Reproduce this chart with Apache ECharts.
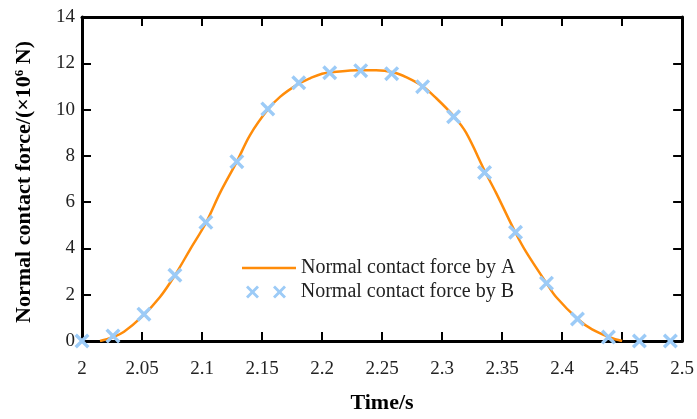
<!DOCTYPE html>
<html>
<head>
<meta charset="utf-8">
<script src="https://cdn.jsdelivr.net/npm/echarts@6/dist/echarts.min.js"></script>
<style>
  html, body { margin: 0; padding: 0; background: #fff; }
  #chart { width: 697px; height: 419px; }
</style>
</head>
<body>
<div id="chart"></div>
<script>
// curve A
var timeA = [2.015, 2.025, 2.035, 2.05, 2.065, 2.0774, 2.09, 2.1032, 2.115, 2.129, 2.14, 2.1548, 2.165,
    2.18, 2.19, 2.2, 2.21, 2.23, 2.245, 2.26, 2.27, 2.284, 2.295, 2.31, 2.32, 2.336, 2.345, 2.361,
    2.37, 2.387, 2.395, 2.413, 2.425, 2.44, 2.45];
var forceA = [0, 0.15, 0.4, 1.05, 1.9, 2.84, 3.95, 5.1, 6.4, 7.75, 8.9, 10.0, 10.55,
    11.1, 11.35, 11.55, 11.62, 11.7, 11.7, 11.6, 11.4, 11.0, 10.5, 9.7, 9.0, 7.3, 6.4, 4.7,
    3.85, 2.5, 1.9, 0.95, 0.5, 0.15, 0];
// points B
var timeB = [2.0, 2.0258, 2.0516, 2.0774, 2.1032, 2.129, 2.1548, 2.1806, 2.2064, 2.2322,
    2.258, 2.2838, 2.3096, 2.3354, 2.3612, 2.387, 2.4128, 2.4386, 2.4644, 2.4902];
var forceB = [0, 0.22, 1.16, 2.84, 5.13, 7.75, 10.03, 11.16, 11.59, 11.68,
    11.55, 10.99, 9.69, 7.28, 4.7, 2.5, 0.95, 0.17, 0, 0];
var xTicks = [2, 2.05, 2.1, 2.15, 2.2, 2.25, 2.3, 2.35, 2.4, 2.45, 2.5];
var yTicks = [0, 2, 4, 6, 8, 10, 12, 14];

var nameA = 'Normal contact force by A',
    nameB = 'Normal contact force by B';

var serif = '"Liberation Serif", "DejaVu Serif", serif';
var textColor = '#222';

// filled X shape so it renders as a cross
var crossPath = 'path://M0,1.6L1.6,0L5,3.4L8.4,0L10,1.6L6.6,5L10,8.4L8.4,10L5,6.6L1.6,10L0,8.4L3.4,5Z';
var crossPairPath = 'path://M0,2L2,0L6.5,4.5L11,0L13,2L8.5,6.5L13,11L11,13L6.5,8.5L2,13L0,11L4.5,6.5Z' +
    'M27,2L29,0L33.5,4.5L38,0L40,2L35.5,6.5L40,11L38,13L33.5,8.5L29,13L27,11L31.5,6.5Z' +
    'M49.4,6.4L49.5,6.4L49.5,6.5Z';

var dataA = timeA.map(function (t, i) { return [t, forceA[i]]; });
var dataB = timeB.map(function (t, i) { return [t, forceB[i]]; });

var chart = echarts.init(document.getElementById('chart'), null, { renderer: 'canvas' });

var axisLine = { show: true, onZero: false, lineStyle: { color: '#000', width: 3 } };
var tick = { show: true, inside: true, length: 9, lineStyle: { color: '#000', width: 2 } };

chart.setOption({
    animation: false,
    backgroundColor: '#fff',
    grid: { left: 82, right: 8, top: 17, bottom: 77 },
    legend: [{
        left: 242, top: 258, padding: 0,
        data: [{ name: nameA, icon: 'rect', itemStyle: { color: '#ff8c0a' } }],
        itemWidth: 54, itemHeight: 2.5,
        textStyle: { fontFamily: serif, fontSize: 20, color: textColor }
    }, {
        left: 246, top: 282, padding: 0,
        data: [{ name: nameB, icon: crossPairPath }],
        itemWidth: 50, itemHeight: 13,
        textStyle: { fontFamily: serif, fontSize: 20, color: textColor }
    }],
    xAxis: [{
        type: 'value', min: 2, max: 2.5, interval: 0.05,
        name: 'Time/s', nameLocation: 'middle', nameGap: 51,
        nameTextStyle: { fontFamily: serif, fontSize: 22, fontWeight: 'bold', color: '#000' },
        axisLine: axisLine, axisTick: tick, splitLine: { show: false },
        axisLabel: {
            margin: 19, fontFamily: serif, fontSize: 19, color: textColor,
            formatter: function (v) {
                var i = xTicks.findIndex(function (t) { return Math.abs(t - v) < 1e-6; });
                return i < 0 ? '' : String(xTicks[i]);
            }
        }
    }, {
        type: 'value', min: 2, max: 2.5, interval: 0.05, position: 'top',
        axisLine: axisLine, axisTick: tick, axisLabel: { show: false }, splitLine: { show: false }
    }],
    yAxis: [{
        type: 'value', min: 0, max: 14, interval: 2,
        name: '{a|Normal contact force/(×10}{s|6}{a| N)}', nameLocation: 'middle', nameGap: 47,
        nameTextStyle: {
            padding: [0, 6, 0, 0],
            rich: {
                a: { fontFamily: serif, fontSize: 22, fontWeight: 'bold', color: '#000' },
                s: { fontFamily: serif, fontSize: 13, fontWeight: 'bold', color: '#000', verticalAlign: 'top', padding: [0, 0, 8, 0] }
            }
        },
        axisLine: axisLine, axisTick: tick, splitLine: { show: false },
        axisLabel: {
            margin: 7, fontFamily: serif, fontSize: 19, color: textColor,
            formatter: function (v) { return yTicks.indexOf(v) < 0 ? '' : String(v); }
        }
    }, {
        type: 'value', min: 0, max: 14, interval: 2, position: 'right',
        axisLine: axisLine, axisTick: tick, axisLabel: { show: false }, splitLine: { show: false }
    }],
    series: [{
        name: nameA,
        type: 'line',
        data: dataA,
        smooth: 0.35,
        symbol: 'none',
        lineStyle: { color: '#ff8c0a', width: 2.5 },
        itemStyle: { color: '#ff8c0a' },
        z: 2
    }, {
        name: nameB,
        type: 'scatter',
        data: dataB,
        symbol: crossPath,
        symbolSize: 15,
        itemStyle: { color: '#9ccbf7', opacity: 1 },
        z: 3
    }]
});
</script>
</body>
</html>
